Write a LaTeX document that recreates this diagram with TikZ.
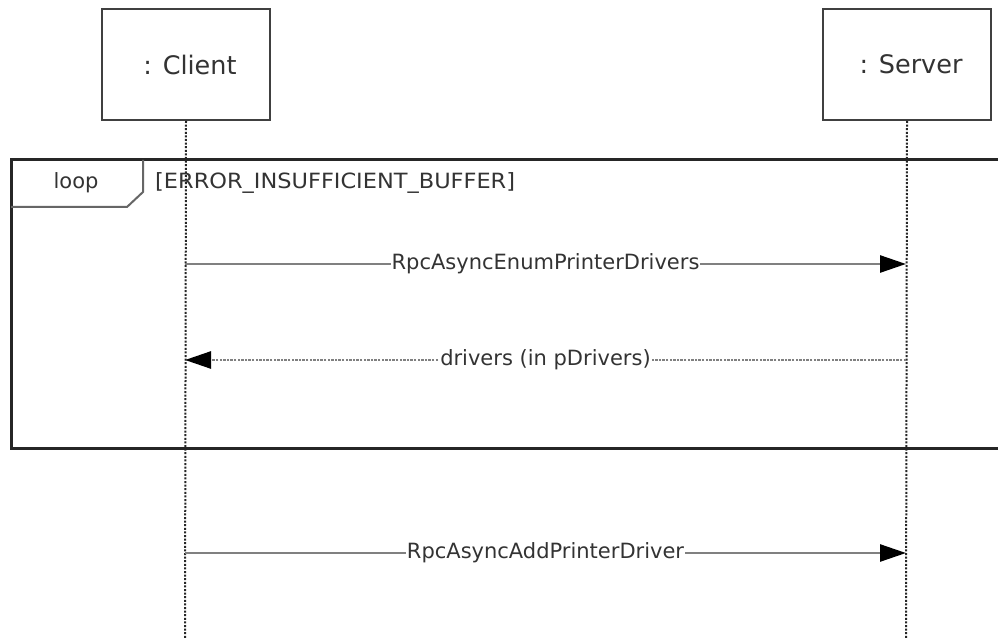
\documentclass[tikz,border=0pt]{standalone}
\usepackage{fontspec}
\setmainfont{DejaVu Sans}
\usetikzlibrary{arrows.meta}
\begin{document}
\begin{tikzpicture}[x=1pt,y=-1pt,
  actor/.style={draw=black!75, line width=2pt, fill=white, minimum width=168pt, minimum height=111pt, inner sep=0pt, text=black!80, font=\fontsize{25.5}{30}\selectfont, anchor=north west},
  lifeline/.style={draw=black!85, line width=2pt, dash pattern=on 2pt off 1.6pt},
  msg/.style={draw=black!50, line width=2.6pt, -{Triangle[length=26pt,width=17pt,color=black]}},
  reply/.style={msg, dash pattern=on 2.4pt off 1.2pt},
  lbl/.style={fill=white, text=black!80, font=\fontsize{21}{24}\selectfont, inner sep=1pt},
  frametext/.style={text=black!80, font=\fontsize{21}{24}\selectfont, inner sep=0pt}]
\useasboundingbox (0,0) rectangle (998,639);
\fill[white] (0,0) rectangle (998,639);
\clip (0,0) rectangle (998,639);
% actors
\node[actor] (client) at (101,8) {\hspace*{8pt}: Client};
\node[actor] (server) at (822,8) {\hspace*{8pt}: Server};
\coordinate (clientEnd) at (185,639);
\coordinate (serverEnd) at (906,639);
\draw[lifeline] (client.south) -- (clientEnd);
\draw[lifeline] (server.south) -- (serverEnd);
% loop frame
\draw[black!85, line width=3pt] (1010,160) -- (11,160) -- (11,448) -- (1010,448);
\draw[black!60, line width=2pt] (143,160) -- (143,192) -- (127,207) -- (11,207);
\node[frametext] (looplbl) at (76,183) {loop};
\node[frametext, anchor=west] (guard) at (155,183) {\addfontfeatures{FakeStretch=1.07}[ERROR\_INSUFFICIENT\_BUFFER]};
% messages
\coordinate (c1) at (185,264);
\coordinate (s1) at (906,264);
\coordinate (c2) at (185,360);
\coordinate (s2) at (906,360);
\coordinate (c3) at (185,553);
\coordinate (s3) at (906,553);
\draw[msg] (c1) -- node[lbl] (m1) {RpcAsyncEnumPrinterDrivers} (s1);
\draw[reply] (s2) -- node[lbl] (m2) {drivers (in pDrivers)} (c2);
\draw[msg] (c3) -- node[lbl] (m3) {RpcAsyncAddPrinterDriver} (s3);
\end{tikzpicture}
\end{document}
